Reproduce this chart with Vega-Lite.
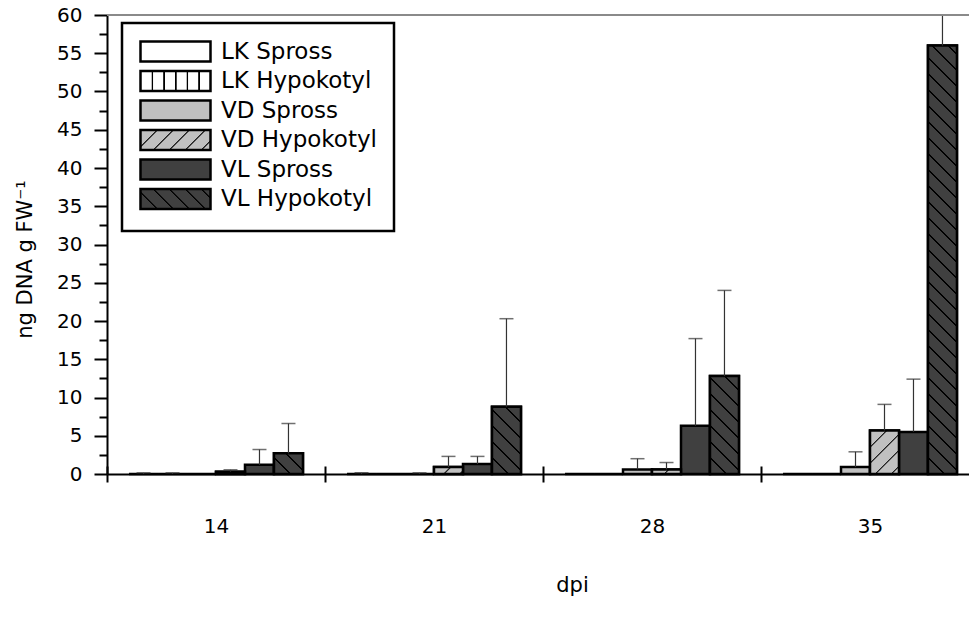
{
  "$schema": "https://vega.github.io/schema/vega-lite/v6.json",
  "width": 862,
  "height": 459,
  "autosize": {"type": "none"},
  "padding": {"left": 107, "top": 15, "right": 0, "bottom": 160},
  "background": "white",
  "config": {"view": {"stroke": null}, "font": "DejaVu Sans"},
  "params": [
    {"name": "darkStops", "value": [
      {"offset":0,"color":"#000"},{"offset":0.0025,"color":"#000"},{"offset":0.004,"color":"#404040"},{"offset":0.03075,"color":"#404040"},
      {"offset":0.03125,"color":"#000"},{"offset":0.03375,"color":"#000"},{"offset":0.03525,"color":"#404040"},{"offset":0.062,"color":"#404040"},
      {"offset":0.0625,"color":"#000"},{"offset":0.065,"color":"#000"},{"offset":0.0665,"color":"#404040"},{"offset":0.09325,"color":"#404040"},
      {"offset":0.09375,"color":"#000"},{"offset":0.09625,"color":"#000"},{"offset":0.09775,"color":"#404040"},{"offset":0.1245,"color":"#404040"},
      {"offset":0.125,"color":"#000"},{"offset":0.1275,"color":"#000"},{"offset":0.129,"color":"#404040"},{"offset":0.15575,"color":"#404040"},
      {"offset":0.15625,"color":"#000"},{"offset":0.15875,"color":"#000"},{"offset":0.16025,"color":"#404040"},{"offset":0.187,"color":"#404040"},
      {"offset":0.1875,"color":"#000"},{"offset":0.19,"color":"#000"},{"offset":0.1915,"color":"#404040"},{"offset":0.21825,"color":"#404040"},
      {"offset":0.21875,"color":"#000"},{"offset":0.22125,"color":"#000"},{"offset":0.22275,"color":"#404040"},{"offset":0.2495,"color":"#404040"},
      {"offset":0.25,"color":"#000"},{"offset":0.2525,"color":"#000"},{"offset":0.254,"color":"#404040"},{"offset":0.28075,"color":"#404040"},
      {"offset":0.28125,"color":"#000"},{"offset":0.28375,"color":"#000"},{"offset":0.28525,"color":"#404040"},{"offset":0.312,"color":"#404040"},
      {"offset":0.3125,"color":"#000"},{"offset":0.315,"color":"#000"},{"offset":0.3165,"color":"#404040"},{"offset":0.34325,"color":"#404040"},
      {"offset":0.34375,"color":"#000"},{"offset":0.34625,"color":"#000"},{"offset":0.34775,"color":"#404040"},{"offset":0.3745,"color":"#404040"},
      {"offset":0.375,"color":"#000"},{"offset":0.3775,"color":"#000"},{"offset":0.379,"color":"#404040"},{"offset":0.40575,"color":"#404040"},
      {"offset":0.40625,"color":"#000"},{"offset":0.40875,"color":"#000"},{"offset":0.41025,"color":"#404040"},{"offset":0.437,"color":"#404040"},
      {"offset":0.4375,"color":"#000"},{"offset":0.44,"color":"#000"},{"offset":0.4415,"color":"#404040"},{"offset":0.46825,"color":"#404040"},
      {"offset":0.46875,"color":"#000"},{"offset":0.47125,"color":"#000"},{"offset":0.47275,"color":"#404040"},{"offset":0.4995,"color":"#404040"},
      {"offset":0.5,"color":"#000"},{"offset":0.5025,"color":"#000"},{"offset":0.504,"color":"#404040"},{"offset":0.53075,"color":"#404040"},
      {"offset":0.53125,"color":"#000"},{"offset":0.53375,"color":"#000"},{"offset":0.53525,"color":"#404040"},{"offset":0.562,"color":"#404040"},
      {"offset":0.5625,"color":"#000"},{"offset":0.565,"color":"#000"},{"offset":0.5665,"color":"#404040"},{"offset":0.59325,"color":"#404040"},
      {"offset":0.59375,"color":"#000"},{"offset":0.59625,"color":"#000"},{"offset":0.59775,"color":"#404040"},{"offset":0.6245,"color":"#404040"},
      {"offset":0.625,"color":"#000"},{"offset":0.6275,"color":"#000"},{"offset":0.629,"color":"#404040"},{"offset":0.65575,"color":"#404040"},
      {"offset":0.65625,"color":"#000"},{"offset":0.65875,"color":"#000"},{"offset":0.66025,"color":"#404040"},{"offset":0.687,"color":"#404040"},
      {"offset":0.6875,"color":"#000"},{"offset":0.69,"color":"#000"},{"offset":0.6915,"color":"#404040"},{"offset":0.71825,"color":"#404040"},
      {"offset":0.71875,"color":"#000"},{"offset":0.72125,"color":"#000"},{"offset":0.72275,"color":"#404040"},{"offset":0.7495,"color":"#404040"},
      {"offset":0.75,"color":"#000"},{"offset":0.7525,"color":"#000"},{"offset":0.754,"color":"#404040"},{"offset":0.78075,"color":"#404040"},
      {"offset":0.78125,"color":"#000"},{"offset":0.78375,"color":"#000"},{"offset":0.78525,"color":"#404040"},{"offset":0.812,"color":"#404040"},
      {"offset":0.8125,"color":"#000"},{"offset":0.815,"color":"#000"},{"offset":0.8165,"color":"#404040"},{"offset":0.84325,"color":"#404040"},
      {"offset":0.84375,"color":"#000"},{"offset":0.84625,"color":"#000"},{"offset":0.84775,"color":"#404040"},{"offset":0.8745,"color":"#404040"},
      {"offset":0.875,"color":"#000"},{"offset":0.8775,"color":"#000"},{"offset":0.879,"color":"#404040"},{"offset":0.90575,"color":"#404040"},
      {"offset":0.90625,"color":"#000"},{"offset":0.90875,"color":"#000"},{"offset":0.91025,"color":"#404040"},{"offset":0.937,"color":"#404040"},
      {"offset":0.9375,"color":"#000"},{"offset":0.94,"color":"#000"},{"offset":0.9415,"color":"#404040"},{"offset":0.96825,"color":"#404040"},
      {"offset":0.96875,"color":"#000"},{"offset":0.97125,"color":"#000"},{"offset":0.97275,"color":"#404040"},{"offset":1,"color":"#404040"}
    ]},
    {"name": "lightStops", "value": [
      {"offset":0,"color":"#222"},{"offset":0.0025,"color":"#222"},{"offset":0.004,"color":"#c0c0c0"},{"offset":0.03075,"color":"#c0c0c0"},
      {"offset":0.03125,"color":"#222"},{"offset":0.03375,"color":"#222"},{"offset":0.03525,"color":"#c0c0c0"},{"offset":0.062,"color":"#c0c0c0"},
      {"offset":0.0625,"color":"#222"},{"offset":0.065,"color":"#222"},{"offset":0.0665,"color":"#c0c0c0"},{"offset":0.09325,"color":"#c0c0c0"},
      {"offset":0.09375,"color":"#222"},{"offset":0.09625,"color":"#222"},{"offset":0.09775,"color":"#c0c0c0"},{"offset":0.1245,"color":"#c0c0c0"},
      {"offset":0.125,"color":"#222"},{"offset":0.1275,"color":"#222"},{"offset":0.129,"color":"#c0c0c0"},{"offset":0.15575,"color":"#c0c0c0"},
      {"offset":0.15625,"color":"#222"},{"offset":0.15875,"color":"#222"},{"offset":0.16025,"color":"#c0c0c0"},{"offset":0.187,"color":"#c0c0c0"},
      {"offset":0.1875,"color":"#222"},{"offset":0.19,"color":"#222"},{"offset":0.1915,"color":"#c0c0c0"},{"offset":0.21825,"color":"#c0c0c0"},
      {"offset":0.21875,"color":"#222"},{"offset":0.22125,"color":"#222"},{"offset":0.22275,"color":"#c0c0c0"},{"offset":0.2495,"color":"#c0c0c0"},
      {"offset":0.25,"color":"#222"},{"offset":0.2525,"color":"#222"},{"offset":0.254,"color":"#c0c0c0"},{"offset":0.28075,"color":"#c0c0c0"},
      {"offset":0.28125,"color":"#222"},{"offset":0.28375,"color":"#222"},{"offset":0.28525,"color":"#c0c0c0"},{"offset":0.312,"color":"#c0c0c0"},
      {"offset":0.3125,"color":"#222"},{"offset":0.315,"color":"#222"},{"offset":0.3165,"color":"#c0c0c0"},{"offset":0.34325,"color":"#c0c0c0"},
      {"offset":0.34375,"color":"#222"},{"offset":0.34625,"color":"#222"},{"offset":0.34775,"color":"#c0c0c0"},{"offset":0.3745,"color":"#c0c0c0"},
      {"offset":0.375,"color":"#222"},{"offset":0.3775,"color":"#222"},{"offset":0.379,"color":"#c0c0c0"},{"offset":0.40575,"color":"#c0c0c0"},
      {"offset":0.40625,"color":"#222"},{"offset":0.40875,"color":"#222"},{"offset":0.41025,"color":"#c0c0c0"},{"offset":0.437,"color":"#c0c0c0"},
      {"offset":0.4375,"color":"#222"},{"offset":0.44,"color":"#222"},{"offset":0.4415,"color":"#c0c0c0"},{"offset":0.46825,"color":"#c0c0c0"},
      {"offset":0.46875,"color":"#222"},{"offset":0.47125,"color":"#222"},{"offset":0.47275,"color":"#c0c0c0"},{"offset":0.4995,"color":"#c0c0c0"},
      {"offset":0.5,"color":"#222"},{"offset":0.5025,"color":"#222"},{"offset":0.504,"color":"#c0c0c0"},{"offset":0.53075,"color":"#c0c0c0"},
      {"offset":0.53125,"color":"#222"},{"offset":0.53375,"color":"#222"},{"offset":0.53525,"color":"#c0c0c0"},{"offset":0.562,"color":"#c0c0c0"},
      {"offset":0.5625,"color":"#222"},{"offset":0.565,"color":"#222"},{"offset":0.5665,"color":"#c0c0c0"},{"offset":0.59325,"color":"#c0c0c0"},
      {"offset":0.59375,"color":"#222"},{"offset":0.59625,"color":"#222"},{"offset":0.59775,"color":"#c0c0c0"},{"offset":0.6245,"color":"#c0c0c0"},
      {"offset":0.625,"color":"#222"},{"offset":0.6275,"color":"#222"},{"offset":0.629,"color":"#c0c0c0"},{"offset":0.65575,"color":"#c0c0c0"},
      {"offset":0.65625,"color":"#222"},{"offset":0.65875,"color":"#222"},{"offset":0.66025,"color":"#c0c0c0"},{"offset":0.687,"color":"#c0c0c0"},
      {"offset":0.6875,"color":"#222"},{"offset":0.69,"color":"#222"},{"offset":0.6915,"color":"#c0c0c0"},{"offset":0.71825,"color":"#c0c0c0"},
      {"offset":0.71875,"color":"#222"},{"offset":0.72125,"color":"#222"},{"offset":0.72275,"color":"#c0c0c0"},{"offset":0.7495,"color":"#c0c0c0"},
      {"offset":0.75,"color":"#222"},{"offset":0.7525,"color":"#222"},{"offset":0.754,"color":"#c0c0c0"},{"offset":0.78075,"color":"#c0c0c0"},
      {"offset":0.78125,"color":"#222"},{"offset":0.78375,"color":"#222"},{"offset":0.78525,"color":"#c0c0c0"},{"offset":0.812,"color":"#c0c0c0"},
      {"offset":0.8125,"color":"#222"},{"offset":0.815,"color":"#222"},{"offset":0.8165,"color":"#c0c0c0"},{"offset":0.84325,"color":"#c0c0c0"},
      {"offset":0.84375,"color":"#222"},{"offset":0.84625,"color":"#222"},{"offset":0.84775,"color":"#c0c0c0"},{"offset":0.8745,"color":"#c0c0c0"},
      {"offset":0.875,"color":"#222"},{"offset":0.8775,"color":"#222"},{"offset":0.879,"color":"#c0c0c0"},{"offset":0.90575,"color":"#c0c0c0"},
      {"offset":0.90625,"color":"#222"},{"offset":0.90875,"color":"#222"},{"offset":0.91025,"color":"#c0c0c0"},{"offset":0.937,"color":"#c0c0c0"},
      {"offset":0.9375,"color":"#222"},{"offset":0.94,"color":"#222"},{"offset":0.9415,"color":"#c0c0c0"},{"offset":0.96825,"color":"#c0c0c0"},
      {"offset":0.96875,"color":"#222"},{"offset":0.97125,"color":"#222"},{"offset":0.97275,"color":"#c0c0c0"},{"offset":1,"color":"#c0c0c0"}
    ]},
    {"name": "whiteStops", "value": [
      {"offset":0,"color":"#fff"},
      {"offset":0.155,"color":"#fff"},{"offset":0.163,"color":"#000"},{"offset":0.178,"color":"#000"},{"offset":0.186,"color":"#fff"},
      {"offset":0.322,"color":"#fff"},{"offset":0.330,"color":"#000"},{"offset":0.345,"color":"#000"},{"offset":0.353,"color":"#fff"},
      {"offset":0.489,"color":"#fff"},{"offset":0.497,"color":"#000"},{"offset":0.512,"color":"#000"},{"offset":0.520,"color":"#fff"},
      {"offset":0.655,"color":"#fff"},{"offset":0.663,"color":"#000"},{"offset":0.678,"color":"#000"},{"offset":0.686,"color":"#fff"},
      {"offset":0.822,"color":"#fff"},{"offset":0.830,"color":"#000"},{"offset":0.845,"color":"#000"},{"offset":0.853,"color":"#fff"},
      {"offset":1,"color":"#fff"}
    ]}
  ],
  "data": {"values": [
    {"dpi": "14", "series": "LK Spross", "value": 0, "upper": 0.15},
    {"dpi": "14", "series": "LK Hypokotyl", "value": 0, "upper": 0.15},
    {"dpi": "14", "series": "VD Spross", "value": 0, "upper": null},
    {"dpi": "14", "series": "VD Hypokotyl", "value": 0.3, "upper": 0.55},
    {"dpi": "14", "series": "VL Spross", "value": 1.2, "upper": 3.2},
    {"dpi": "14", "series": "VL Hypokotyl", "value": 2.7, "upper": 6.6},
    {"dpi": "21", "series": "LK Spross", "value": 0, "upper": 0.15},
    {"dpi": "21", "series": "LK Hypokotyl", "value": 0, "upper": null},
    {"dpi": "21", "series": "VD Spross", "value": 0, "upper": 0.15},
    {"dpi": "21", "series": "VD Hypokotyl", "value": 0.9, "upper": 2.3},
    {"dpi": "21", "series": "VL Spross", "value": 1.3, "upper": 2.3},
    {"dpi": "21", "series": "VL Hypokotyl", "value": 8.8, "upper": 20.3},
    {"dpi": "28", "series": "LK Spross", "value": 0, "upper": null},
    {"dpi": "28", "series": "LK Hypokotyl", "value": 0, "upper": null},
    {"dpi": "28", "series": "VD Spross", "value": 0.6, "upper": 2.0},
    {"dpi": "28", "series": "VD Hypokotyl", "value": 0.6, "upper": 1.5},
    {"dpi": "28", "series": "VL Spross", "value": 6.3, "upper": 17.7},
    {"dpi": "28", "series": "VL Hypokotyl", "value": 12.8, "upper": 24.0},
    {"dpi": "35", "series": "LK Spross", "value": 0, "upper": null},
    {"dpi": "35", "series": "LK Hypokotyl", "value": 0, "upper": null},
    {"dpi": "35", "series": "VD Spross", "value": 0.9, "upper": 2.9},
    {"dpi": "35", "series": "VD Hypokotyl", "value": 5.7, "upper": 9.1},
    {"dpi": "35", "series": "VL Spross", "value": 5.5, "upper": 12.4},
    {"dpi": "35", "series": "VL Hypokotyl", "value": 56.0, "upper": 68}
  ]},
  "layer": [
    {
      "mark": {"type": "bar", "stroke": "black", "strokeWidth": 2.5},
      "encoding": {
        "x": {"field": "dpi", "type": "ordinal", "sort": ["14", "21", "28", "35"],
          "scale": {"range": [0, 872], "paddingInner": 0, "paddingOuter": 0},
          "axis": {"orient": "bottom", "title": "dpi", "labelAngle": 0, "tickBand": "extent", "tickSize": 8, "tickWidth": 2, "tickColor": "black",
            "domainColor": "black", "domainWidth": 2, "labelFont": "DejaVu Sans", "labelFontSize": 20, "labelColor": "black",
            "labelPadding": 34, "titleFont": "DejaVu Sans", "titleFontSize": 21, "titleFontWeight": "normal", "titleColor": "black",
            "titleX": 465, "titleY": 111, "titleBaseline": "middle", "titleAlign": "center"}},
        "xOffset": {"field": "series", "type": "nominal",
          "scale": {"domain": ["LK Spross", "LK Hypokotyl", "VD Spross", "VD Hypokotyl", "VL Spross", "VL Hypokotyl"], "paddingInner": 0, "paddingOuter": 0.76}},
        "y": {"field": "value", "type": "quantitative", "stack": null,
          "scale": {"domain": [0, 60], "nice": false, "zero": true},
          "axis": {"orient": "left", "values": [0, 5, 10, 15, 20, 25, 30, 35, 40, 45, 50, 55, 60], "grid": false,
            "tickSize": 13, "tickWidth": 2, "tickColor": "black", "domainColor": "black", "domainWidth": 2,
            "labelFont": "DejaVu Sans", "labelFontSize": 20, "labelColor": "black", "labelPadding": 12, "labelOverlap": false,
            "title": "ng DNA g FW⁻¹", "titleFont": "DejaVu Sans", "titleFontSize": 21, "titleFontWeight": "normal", "titleColor": "black",
            "titleAngle": 270, "titleX": -82, "titleY": 244, "titleAlign": "center", "titleBaseline": "middle"}},
        "fill": {"field": "series", "type": "nominal",
          "scale": {"domain": ["LK Spross", "LK Hypokotyl", "VD Spross", "VD Hypokotyl", "VL Spross", "VL Hypokotyl"],
            "range": [
              "#ffffff",
              {"expr": "{gradient: 'linear', x1: 0, y1: 0, x2: 1, y2: 0, stops: whiteStops}"},
              "#c0c0c0",
              {"expr": "{gradient: 'linear', x1: 0, y1: 0, x2: 6.762, y2: 1.932, stops: lightStops}"},
              "#404040",
              {"expr": "{gradient: 'linear', x1: 0, y1: 1, x2: 6.762, y2: -0.932, stops: darkStops}"}
            ]},
          "legend": {"title": null, "orient": "none", "legendX": 15, "legendY": 8, "direction": "vertical",
            "padding": 17, "rowPadding": -1.5, "labelFont": "DejaVu Sans", "labelFontSize": 23, "labelColor": "black",
            "labelOffset": 59, "labelLimit": 400, "symbolType": "M-1,-1H6V1H-1Z", "symbolSize": 400,
            "symbolStrokeColor": "black", "symbolStrokeWidth": 2.5, "strokeColor": "black", "fillColor": "white",
            "encode": {
              "legend": {"update": {"stroke": {"value": "black"}, "strokeWidth": {"value": 2.5}, "fill": {"value": "white"}}}
            }}
        }
      }
    },
    {
      "transform": [{"filter": "datum.series == 'VD Hypokotyl' || datum.series == 'VL Hypokotyl'"}],
      "mark": {"type": "bar", "stroke": "black", "strokeWidth": 2.5},
      "encoding": {
        "x": {"field": "dpi", "type": "ordinal", "sort": ["14", "21", "28", "35"], "axis": null},
        "xOffset": {"field": "series", "type": "nominal",
          "scale": {"domain": ["LK Spross", "LK Hypokotyl", "VD Spross", "VD Hypokotyl", "VL Spross", "VL Hypokotyl"]}},
        "y": {"field": "value", "type": "quantitative", "stack": null, "axis": null},
        "fill": {"value": {"expr": "datum.series == 'VL Hypokotyl' ? {gradient: 'linear', x1: 0, y1: 1, x2: 29*512/(841 + pow(datum.value*7.65, 2)), y2: 1 - datum.value*7.65*512/(841 + pow(datum.value*7.65, 2)), stops: darkStops} : {gradient: 'linear', x1: 0, y1: 0, x2: 29*512/(841 + pow(datum.value*7.65, 2)), y2: datum.value*7.65*512/(841 + pow(datum.value*7.65, 2)), stops: lightStops}"}}
      }
    },
    {
      "mark": {"type": "rule", "color": "#333333", "strokeWidth": 1.2, "clip": true},
      "encoding": {
        "x": {"field": "dpi", "type": "ordinal", "sort": ["14", "21", "28", "35"],
          "axis": {"orient": "bottom", "labels": false, "domain": false, "grid": false, "tickBand": "extent", "tickSize": -8,
            "tickWidth": 2, "tickColor": "black", "title": null}},
        "xOffset": {"field": "series", "type": "nominal",
          "scale": {"domain": ["LK Spross", "LK Hypokotyl", "VD Spross", "VD Hypokotyl", "VL Spross", "VL Hypokotyl"]}},
        "y": {"field": "value", "type": "quantitative", "axis": null},
        "y2": {"field": "upper"}
      }
    },
    {
      "mark": {"type": "tick", "orient": "horizontal", "color": "#333333", "thickness": 1.5, "clip": true},
      "encoding": {
        "x": {"field": "dpi", "type": "ordinal", "sort": ["14", "21", "28", "35"], "axis": null},
        "xOffset": {"field": "series", "type": "nominal",
          "scale": {"domain": ["LK Spross", "LK Hypokotyl", "VD Spross", "VD Hypokotyl", "VL Spross", "VL Hypokotyl"]}},
        "y": {"field": "upper", "type": "quantitative", "axis": null},
        "size": {"value": 14}
      }
    },
    {
      "mark": {"type": "rule", "color": "#8a8a8a", "strokeWidth": 1.5},
      "encoding": {
        "y": {"datum": 60, "type": "quantitative",
          "axis": {"orient": "left", "values": [2.5, 7.5, 12.5, 17.5, 22.5, 27.5, 32.5, 37.5, 42.5, 47.5, 52.5, 57.5],
            "labels": false, "domain": false, "grid": false, "tickSize": 8, "tickWidth": 2, "tickColor": "black", "title": null}}
      }
    }
  ],
  "resolve": {"axis": {"y": "independent", "x": "independent"}}
}
